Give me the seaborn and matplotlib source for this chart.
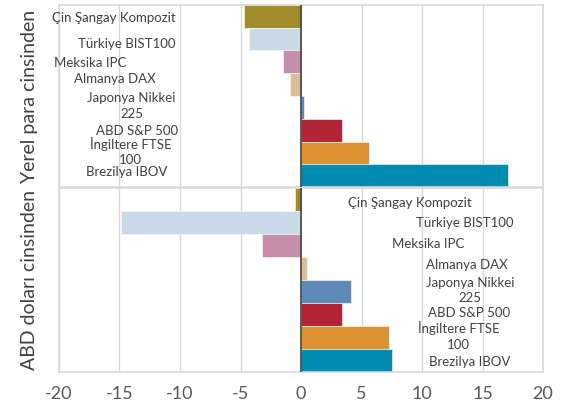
import pandas as pd
import seaborn as sns
import matplotlib.pyplot as plt

# Endeksler (üstten alta)
indices = ['Çin Şangay Kompozit', 'Türkiye BIST100', 'Meksika IPC', 'Almanya DAX',
           'Japonya Nikkei 225', 'ABD S&P 500', 'İngiltere FTSE 100', 'Brezilya IBOV']
# Etiketlerin grafikte yazıldığı hali
label_texts = ['Çin Şangay Kompozit', 'Türkiye BIST100', 'Meksika IPC', 'Almanya DAX',
               'Japonya Nikkei\n225', 'ABD S&P 500', 'İngiltere FTSE\n100', 'Brezilya IBOV']
local_values = [-4.7, -4.3, -1.5, -0.9, 0.25, 3.4, 5.6, 17.1]
usd_values = [-0.5, -14.9, -3.2, 0.5, 4.1, 3.4, 7.3, 7.5]
colors = ['#A08C2A', '#C9D9E7', '#C68EA8', '#D9BE98', '#5F8AB5', '#B22436', '#DD9232', '#008BB0']
panel_titles = ['Yerel para cinsinden', 'ABD doları cinsinden']
x_ticks = [-20, -15, -10, -5, 0, 5, 10, 15, 20]

sns.set_style('white')
plt.rcParams['font.family'] = ['Lato', 'DejaVu Sans']
plt.rcParams['axes.unicode_minus'] = False

palette = dict(zip(indices, colors))
local_df = pd.DataFrame({'index': indices, 'value': local_values})
usd_df = pd.DataFrame({'index': indices, 'value': usd_values})

fig = plt.figure(figsize=(5.64, 4.12), dpi=100)
ax_top = fig.add_axes([0.1046, 0.546, 0.8582, 0.442])
ax_bot = fig.add_axes([0.1046, 0.097, 0.8582, 0.447], sharex=ax_top)

# label placements (x in data units, y in category units)
top_label_pos = [(-15.45, 0.07), (-14.4, 1.21), (-17.4, 2.05), (-15.4, 2.75),
                 (-14.0, 3.94), (-13.55, 5.04), (-14.1, 5.94), (-14.4, 6.84)]
bot_label_pos = [(9.0, 0.15), (13.55, 1.02), (10.5, 1.93), (13.7, 2.85),
                 (13.95, 3.96), (13.9, 4.93), (13.0, 5.93), (13.9, 7.07)]

for ax, df, title, pos in [(ax_top, local_df, panel_titles[0], top_label_pos),
                           (ax_bot, usd_df, panel_titles[1], bot_label_pos)]:
    sns.barplot(data=df, x='value', y='index', hue='index', palette=palette,
                orient='h', width=1.0, dodge=False, legend=False, ax=ax,
                saturation=1, edgecolor='white', linewidth=0.4)
    ax.set_xlim(-20, 20)
    ax.set_ylim(7.5, -0.5)
    ax.set_xticks(x_ticks)
    ax.grid(axis='x', color='#D9D9D9', linewidth=1)
    ax.set_axisbelow(True)
    ax.axvline(0, color='#404040', linewidth=1.2, zorder=5)
    ax.set_yticks([])
    ax.set_ylabel(title, fontsize=14, color='#404040', labelpad=15)
    ax.set_xlabel('')
    for s in ax.spines.values():
        s.set_color('#D9D9D9')
        s.set_linewidth(1.2)
    for txt, (lx, ly) in zip(label_texts, pos):
        ax.text(lx, ly, txt, ha='center', va='center', fontsize=9.5,
                color='#404040', linespacing=1.35, zorder=6)

ax_top.tick_params(axis='x', labelbottom=False, length=0)
ax_bot.tick_params(axis='x', labelsize=13, labelcolor='#595959', length=0, pad=10)

fig.savefig('out.png', dpi=100)
